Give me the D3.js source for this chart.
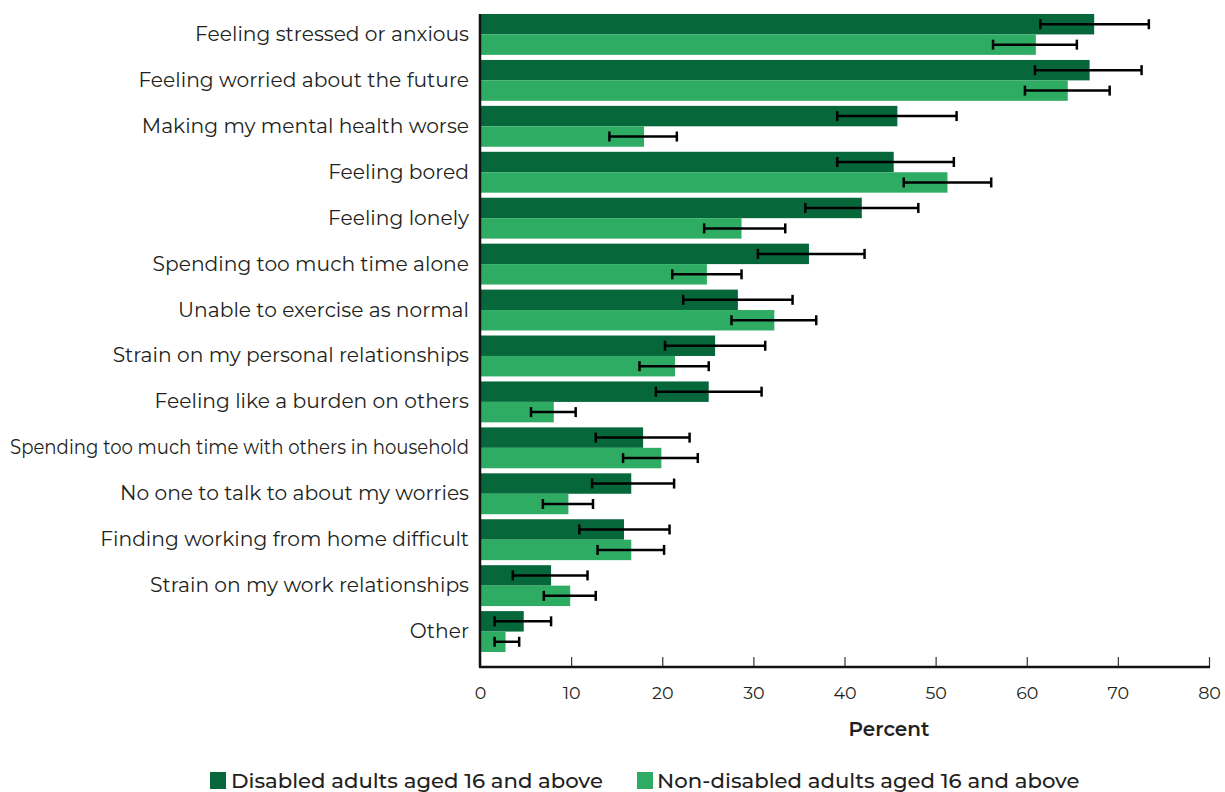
<!DOCTYPE html>
<html><head><meta charset="utf-8">
<script src="https://cdn.jsdelivr.net/npm/d3@7"></script>
<style>body{margin:0;background:#fff;} svg{display:block;}</style>
</head><body>
<svg id="chart" width="1225" height="792"></svg>
<script>
const categories = ["Feeling stressed or anxious","Feeling worried about the future","Making my mental health worse","Feeling bored","Feeling lonely","Spending too much time alone","Unable to exercise as normal","Strain on my personal relationships","Feeling like a burden on others","Spending too much time with others in household","No one to talk to about my worries","Finding working from home difficult","Strain on my work relationships","Other"];
const seriesNames = ["Disabled adults aged 16 and above","Non-disabled adults aged 16 and above"];
const disabled = [67.4,66.9,45.8,45.4,41.9,36.1,28.3,25.8,25.1,17.9,16.6,15.8,7.8,4.8];
const disabledLo = [61.5,60.9,39.2,39.2,35.7,30.5,22.3,20.3,19.3,12.7,12.3,10.9,3.6,1.6];
const disabledHi = [73.4,72.6,52.3,52.0,48.1,42.2,34.3,31.3,30.9,23.0,21.3,20.8,11.8,7.8];
const nonDisabled = [61.0,64.5,18.0,51.3,28.7,24.9,32.3,21.4,8.1,19.9,9.7,16.6,9.9,2.8];
const nonDisabledLo = [56.3,59.8,14.2,46.5,24.6,21.1,27.6,17.5,5.6,15.7,6.9,12.9,7.0,1.6];
const nonDisabledHi = [65.5,69.1,21.6,56.1,33.5,28.7,36.9,25.1,10.5,23.9,12.4,20.2,12.7,4.3];
const xTicks = [0,10,20,30,40,50,60,70,80];
const colors = ["#05673a","#2fac63"];

const svg = d3.select("#chart");
const font = "Montserrat, 'Open Sans', Lato, sans-serif";
const x = d3.scaleLinear().domain([0,80]).range([480,1209]);
const y = d3.scaleBand().domain(categories).range([14,652]).paddingInner(0.11).paddingOuter(0);
const sub = d3.scaleBand().domain([0,1]).range([0,y.bandwidth()]);

const series = [
  {v:disabled, lo:disabledLo, hi:disabledHi},
  {v:nonDisabled, lo:nonDisabledLo, hi:nonDisabledHi}
];

series.forEach((s,si)=>{
  svg.append("g").selectAll("rect").data(categories).join("rect")
    .attr("x", x(0))
    .attr("y", d=>y(d)+sub(si))
    .attr("width", (d,i)=>x(s.v[i])-x(0))
    .attr("height", sub.bandwidth())
    .attr("fill", colors[si]);
});
series.forEach((s,si)=>{
  const g = svg.append("g").attr("stroke","#000").attr("stroke-width",2.5);
  categories.forEach((c,i)=>{
    const cy = y(c)+sub(si)+sub.bandwidth()/2;
    g.append("line").attr("x1",x(s.lo[i])).attr("x2",x(s.hi[i])).attr("y1",cy).attr("y2",cy);
    g.append("line").attr("x1",x(s.lo[i])).attr("x2",x(s.lo[i])).attr("y1",cy-5).attr("y2",cy+5);
    g.append("line").attr("x1",x(s.hi[i])).attr("x2",x(s.hi[i])).attr("y1",cy-5).attr("y2",cy+5);
  });
});

function fitSize(sel, base, target){
  const w = sel.node().getComputedTextLength();
  return base * target / w;
}

// category labels
const catLabels = svg.append("g").selectAll("text").data(categories).join("text")
  .attr("x", 469).attr("y", d=>y(d)+y.bandwidth()/2 - 1)
  .attr("text-anchor","end").attr("dominant-baseline","central")
  .attr("font-family", font).attr("font-size", 19).attr("fill","#231f20")
  .text(d=>d);
const catSize = fitSize(catLabels.filter(d=>d===categories[0]), 19, 274);
catLabels.attr("font-size", catSize);
catLabels.each(function(){
  if (this.getComputedTextLength() > 459) {
    d3.select(this).attr("textLength", 459).attr("lengthAdjust","spacingAndGlyphs");
  }
});

// axes
const axisY = 667;
const xAxis = svg.append("g").attr("transform",`translate(0,${axisY})`)
  .call(d3.axisBottom(x).tickValues(xTicks).tickSize(-10).tickPadding(20).tickFormat(d3.format("d")));
xAxis.select(".domain").remove();
xAxis.selectAll(".tick line").attr("stroke","#333").attr("stroke-width",1.2);
xAxis.selectAll(".tick text").attr("font-family",font).attr("font-size",17.5).attr("fill","#231f20");
svg.append("line").attr("x1",479).attr("x2",1210).attr("y1",axisY).attr("y2",axisY).attr("stroke","#111").attr("stroke-width",2.5);
svg.append("line").attr("x1",480).attr("x2",480).attr("y1",14).attr("y2",axisY).attr("stroke","#111").attr("stroke-width",2.5);

const pct = svg.append("text").attr("x",889).attr("y",736).attr("text-anchor","middle")
  .attr("font-family",font).attr("font-size",18).attr("font-weight",600).attr("fill","#231f20").text("Percent");
pct.attr("font-size", fitSize(pct, 18, 81));

// legend
const leg = [{x:210, tx:231, w:372},{x:637, tx:657, w:423}];
seriesNames.forEach((n,i)=>{
  svg.append("rect").attr("x",leg[i].x).attr("y",772).attr("width",16).attr("height",17).attr("fill",colors[i]);
  const t = svg.append("text").attr("x",leg[i].tx).attr("y",788).attr("font-family",font).attr("font-size",19)
    .attr("font-weight",500).attr("fill","#231f20").text(n);
  t.attr("font-size", fitSize(t, 19, leg[i].w));
});
</script>
</body></html>
